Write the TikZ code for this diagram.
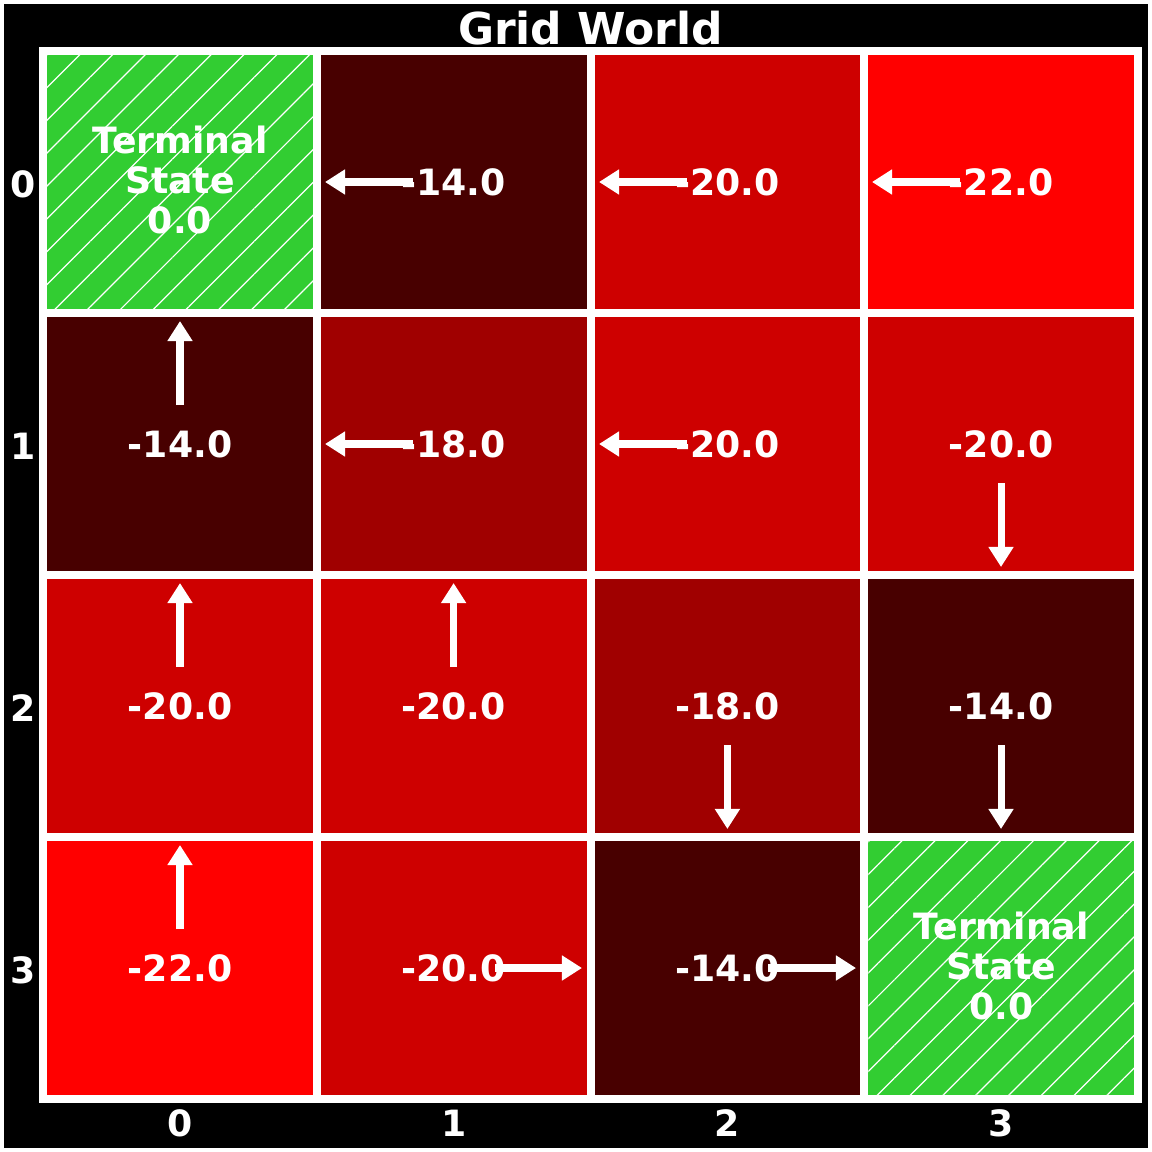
\documentclass[tikz,border=0pt]{standalone}
\usepackage{fontspec}
\setmainfont{DejaVu Sans}
\usepackage{tikz}
\usetikzlibrary{arrows.meta,patterns.meta}

\definecolor{cellbright}{HTML}{FF0000}
\definecolor{cellred}{HTML}{CE0000}
\definecolor{cellmid}{HTML}{A00000}
\definecolor{celldark}{HTML}{480000}
\definecolor{goalgreen}{HTML}{32CD32}

\begin{document}
\begin{tikzpicture}[x=0.01cm,y=-0.01cm,>={Triangle[length=5.7pt,width=6.8pt]},
val/.style={text=white,font=\fontsize{10.3}{11.4}\selectfont\bfseries,align=center},
flow/.style={white,line width=2pt},
goal/.style={fill=goalgreen,postaction={pattern={Lines[angle=45,distance=6.6pt,line width=0.35pt]},pattern color=white}}]
\useasboundingbox (0,0) rectangle (1152,1152);
\fill[white] (0,0) rectangle (1152,1152);
\fill[black] (4,4) rectangle (1148,1148);
\fill[white] (39,47) rectangle (1142,1103);
% row 0
\path[goal] (47,55) rectangle (312.75,309);
\fill[celldark] (320.75,55) rectangle (586.5,309);
\fill[cellred] (594.5,55) rectangle (860.25,309);
\fill[cellbright] (868.25,55) rectangle (1134,309);
% row 1
\fill[celldark] (47,317) rectangle (312.75,571);
\fill[cellmid] (320.75,317) rectangle (586.5,571);
\fill[cellred] (594.5,317) rectangle (860.25,571);
\fill[cellred] (868.25,317) rectangle (1134,571);
% row 2
\fill[cellred] (47,579) rectangle (312.75,833);
\fill[cellred] (320.75,579) rectangle (586.5,833);
\fill[cellmid] (594.5,579) rectangle (860.25,833);
\fill[celldark] (868.25,579) rectangle (1134,833);
% row 3
\fill[cellbright] (47,841) rectangle (312.75,1095);
\fill[cellred] (320.75,841) rectangle (586.5,1095);
\fill[celldark] (594.5,841) rectangle (860.25,1095);
\path[goal] (868.25,841) rectangle (1134,1095);

\node[val,font=\fontsize{12.5}{14}\selectfont\bfseries] (title) at (590.5,28) {Grid World};

\node[val] (v00) at (180,180) {Terminal\\State\\0.0};
\node[val] (v01) at (453.6,182) {-14.0};
\node[val] (v02) at (727.4,182) {-20.0};
\node[val] (v03) at (1001.1,182) {-22.0};
\node[val] (v10) at (180,444) {-14.0};
\node[val] (v11) at (453.6,444) {-18.0};
\node[val] (v12) at (727.4,444) {-20.0};
\node[val] (v13) at (1001.1,444) {-20.0};
\node[val] (v20) at (180,706) {-20.0};
\node[val] (v21) at (453.6,706) {-20.0};
\node[val] (v22) at (727.4,706) {-18.0};
\node[val] (v23) at (1001.1,706) {-14.0};
\node[val] (v30) at (180,968) {-22.0};
\node[val] (v31) at (453.6,968) {-20.0};
\node[val] (v32) at (727.4,968) {-14.0};
\node[val] (v33) at (1001.1,966) {Terminal\\State\\0.0};

%\draw[flow,->] (180,405) -- (180,321);
\draw[flow,->] (413,182) -- (325,182);
\draw[flow,->] (687,182) -- (599,182);
\draw[flow,->] (960,182) -- (872,182);
\draw[flow,->] (180,405) -- (180,321);
\draw[flow,->] (413,444) -- (325,444);
\draw[flow,->] (687,444) -- (599,444);
\draw[flow,->] (1001,483) -- (1001,567);
\draw[flow,->] (180,667) -- (180,583);
\draw[flow,->] (453.6,667) -- (453.6,583);
\draw[flow,->] (727.4,745) -- (727.4,829);
\draw[flow,->] (1001,745) -- (1001,829);
\draw[flow,->] (180,929) -- (180,845);
\draw[flow,->] (495,968) -- (582,968);
\draw[flow,->] (768,968) -- (856,968);

\node[val] (c0) at (180,1123) {0};
\node[val] (c1) at (453.6,1123) {1};
\node[val] (c2) at (727.4,1123) {2};
\node[val] (c3) at (1001.1,1123) {3};
\node[val] (r0) at (23,184) {0};
\node[val] (r1) at (23,446) {1};
\node[val] (r2) at (23,708) {2};
\node[val] (r3) at (23,970) {3};
\end{tikzpicture}
\end{document}
